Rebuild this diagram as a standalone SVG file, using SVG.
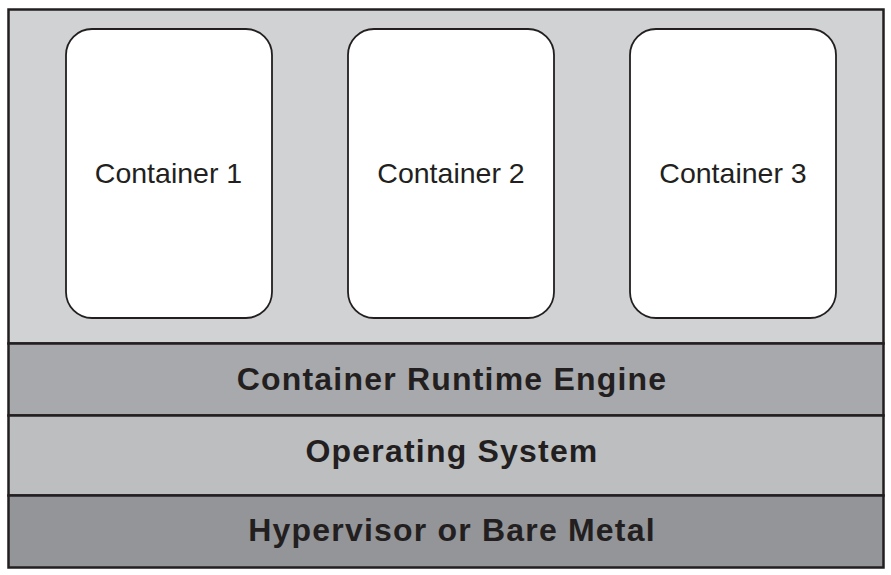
<svg xmlns="http://www.w3.org/2000/svg" width="891" height="575" viewBox="0 0 891 575">
<style>
.layer{stroke:#231f20;stroke-width:2.5}
.box{fill:#ffffff;stroke:#231f20;stroke-width:1.8}
.ct{font-family:"Liberation Sans",Arial,sans-serif;font-size:28.5px;fill:#231f20;text-anchor:middle}
.lt{font-family:"Liberation Sans",Arial,sans-serif;font-size:32px;font-weight:bold;fill:#231f20;text-anchor:middle;letter-spacing:1.2px}
</style>
<rect width="891" height="575" fill="#ffffff"/>
<g id="host">
<rect class="layer" x="8.5" y="9.5" width="875" height="334" fill="#d1d2d4"/>
</g>
<g id="runtime">
<rect class="layer" x="8.5" y="343.5" width="875" height="72" fill="#a7a9ac"/>
<text class="lt" x="452" y="390">Container Runtime Engine</text>
</g>
<g id="os">
<rect class="layer" x="8.5" y="415.5" width="875" height="80" fill="#bcbec0"/>
<text class="lt" x="452" y="462">Operating System</text>
</g>
<g id="hypervisor">
<rect class="layer" x="8.5" y="495.5" width="875" height="72" fill="#939598"/>
<text class="lt" x="452" y="541">Hypervisor or Bare Metal</text>
</g>
<g id="container1">
<rect class="box" x="66" y="29" width="206" height="289" rx="26"/>
<text class="ct" x="168.5" y="183">Container 1</text>
</g>
<g id="container2">
<rect class="box" x="348" y="29" width="206" height="289" rx="26"/>
<text class="ct" x="451" y="183">Container 2</text>
</g>
<g id="container3">
<rect class="box" x="630" y="29" width="206" height="289" rx="26"/>
<text class="ct" x="733" y="183">Container 3</text>
</g>
<g id="connectors"></g>
</svg>
